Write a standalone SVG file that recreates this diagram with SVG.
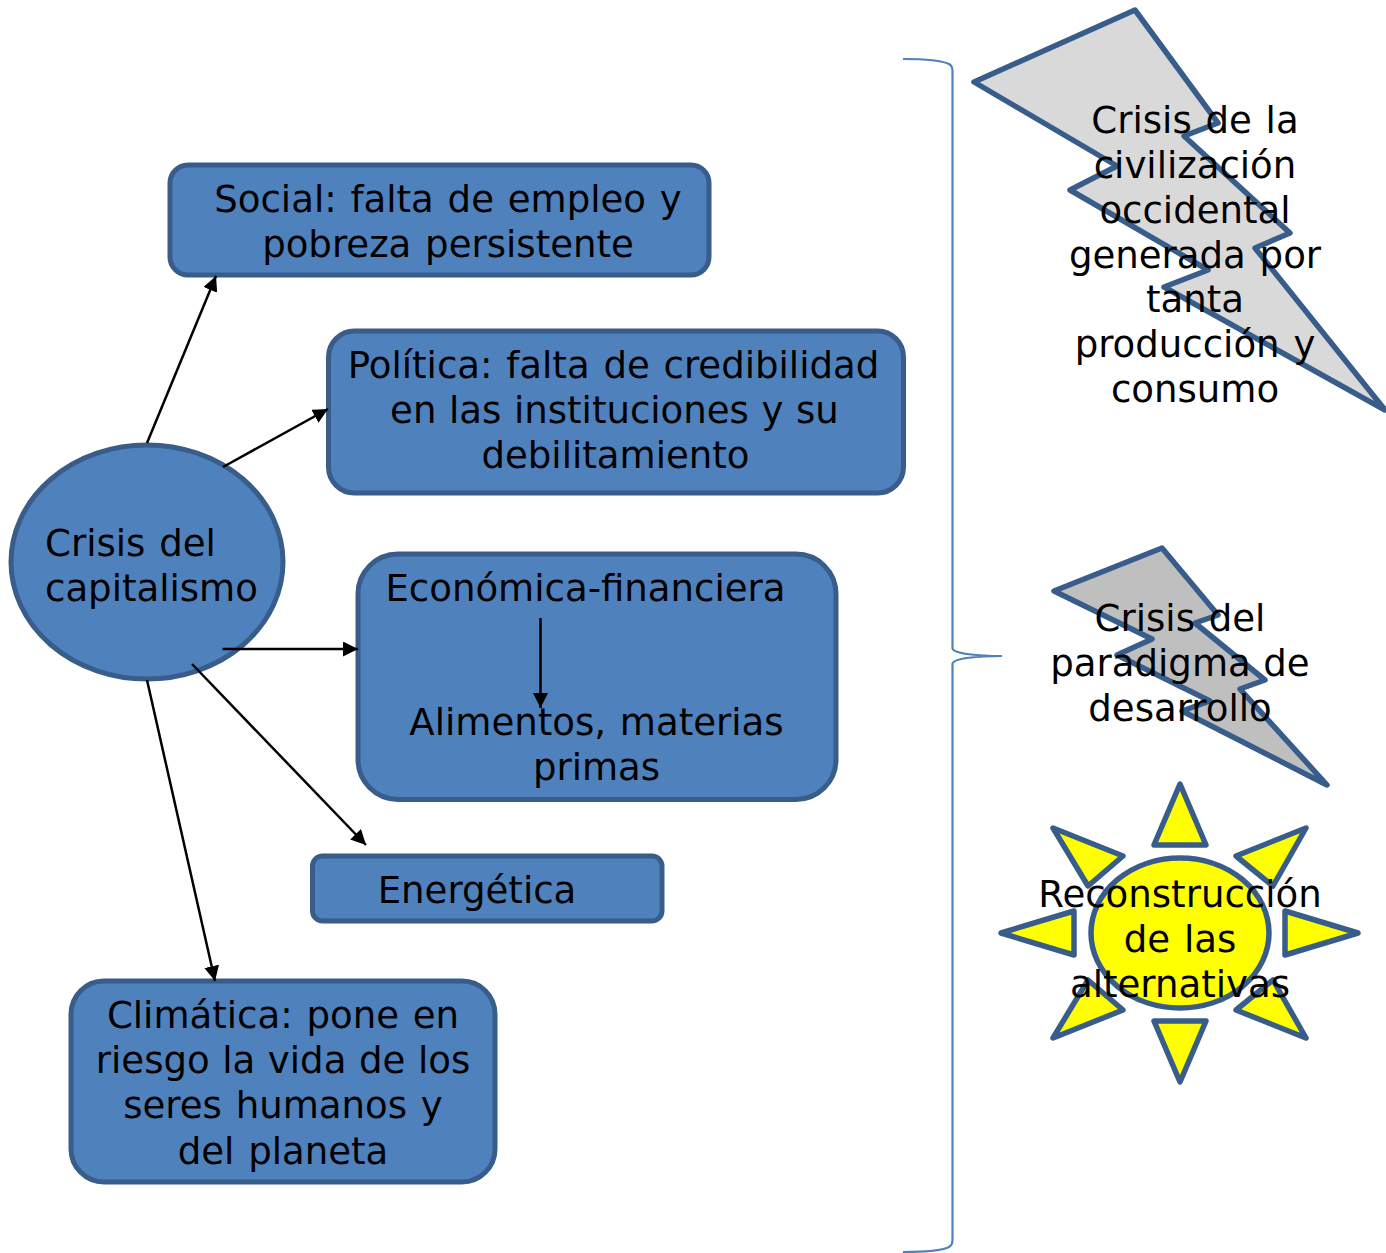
<svg xmlns="http://www.w3.org/2000/svg" width="1386" height="1253" viewBox="0 0 1386 1253">
<style>
.n{fill:#4f81bd;stroke:#385d8a;stroke-width:5}
.b{stroke:#385d8a;stroke-width:5.500;stroke-linejoin:round}
.t{font-family:"DejaVu Sans",Verdana,sans-serif;font-size:37.100px;word-spacing:2px;fill:#000;text-anchor:middle}
.l{text-anchor:start}
.w{word-spacing:0.800px}
.c{fill:none;stroke:#000;stroke-width:2.500;marker-end:url(#a)}
.br{fill:none;stroke:#4f81bd;stroke-width:2.200}
</style>
<defs><marker id="a" markerUnits="userSpaceOnUse" markerWidth="16" markerHeight="16" refX="15" refY="7.500" orient="auto"><path d="M0 0L15 7.500L0 15Z" fill="#000"/></marker></defs>
<g id="brace"><path class="br" d="M903 59C925 59 943 61 949 64Q952.500 66 952.500 71V648C952.500 654 980 656 1002 656C980 656 952.500 658 952.500 664V1240Q952.500 1245 949 1247C943 1250 925 1252 903 1252"/></g>
<g id="crisis"><ellipse class="n" cx="147" cy="562" rx="136" ry="117"/><text class="t l" x="45" y="556">Crisis del</text><text class="t l" x="45" y="601">capitalismo</text></g>
<g id="social"><rect class="n" x="170" y="165" width="539" height="110" rx="18"/><text class="t" x="448" y="212">Social: falta de empleo y</text><text class="t" x="448" y="257">pobreza persistente</text></g>
<g id="politica"><rect class="n" x="328.500" y="331" width="575" height="162" rx="26"/><text class="t" x="613.500" y="378">Política: falta de credibilidad</text><text class="t w" x="614.500" y="423">en las instituciones y su</text><text class="t" x="615.500" y="468">debilitamiento</text></g>
<g id="economica"><rect class="n" x="358" y="554" width="478" height="245.500" rx="40"/><text class="t" x="585.500" y="601">Económica-financiera</text><text class="t" x="596.500" y="735">Alimentos, materias</text><text class="t" x="596.500" y="780">primas</text></g>
<g id="energetica"><rect class="n" x="312.500" y="856" width="349.500" height="65" rx="10"/><text class="t" x="477" y="903">Energética</text></g>
<g id="climatica"><rect class="n" x="71" y="981" width="424" height="201" rx="33"/><text class="t" x="283" y="1028">Climática: pone en</text><text class="t w" x="283" y="1073">riesgo la vida de los</text><text class="t" x="283" y="1118">seres humanos y</text><text class="t" x="283" y="1164">del planeta</text></g>
<g id="connectors">
<path class="c" d="M147 443L216 276"/>
<path class="c" d="M223 467L328 409"/>
<path class="c" d="M222.500 649H358"/>
<path class="c" d="M192 664L366 845"/>
<path class="c" d="M147 680L215 981"/>
<path class="c" d="M540.500 618V708"/>
</g>
<g id="rayo1"><polygon class="b" fill="#d9d9d9" points="1135,10 1218,123 1184,136 1290,233 1255,248 1385,410 1164,287 1208,270 1070,190 1117,166 974,82"/><text class="t" x="1195" y="133">Crisis de la</text><text class="t" x="1195" y="178">civilización</text><text class="t" x="1195" y="223">occidental</text><text class="t" x="1195" y="268">generada por</text><text class="t" x="1195" y="312">tanta</text><text class="t" x="1195" y="357">producción y</text><text class="t" x="1195" y="402">consumo</text></g>
<g id="rayo2"><polygon class="b" fill="#bfbfbf" points="1162,548 1218,615 1195,623 1265,680 1240,689 1327,785 1182,711 1210,701 1117,655 1152,639 1054,591"/><text class="t" x="1180" y="631">Crisis del</text><text class="t w" x="1180" y="676">paradigma de</text><text class="t" x="1180" y="721">desarrollo</text></g>
<g id="sol"><path class="b" fill="#ffff00" d="M1180 784L1206 845H1154ZM1001 933L1074 911V955ZM1358 933L1285 911V955ZM1180 1082L1154 1021H1206ZM1053 828L1123 856L1088 886ZM1306 828L1236 856L1273 886ZM1053 1038L1123 1010L1088 980ZM1306 1038L1236 1010L1273 980Z"/><ellipse class="b" fill="#ffff00" cx="1180" cy="933" rx="89" ry="75"/><text class="t" x="1180" y="907">Reconstrucción</text><text class="t" x="1180" y="952">de las</text><text class="t" x="1180" y="997">alternativas</text></g>
</svg>
